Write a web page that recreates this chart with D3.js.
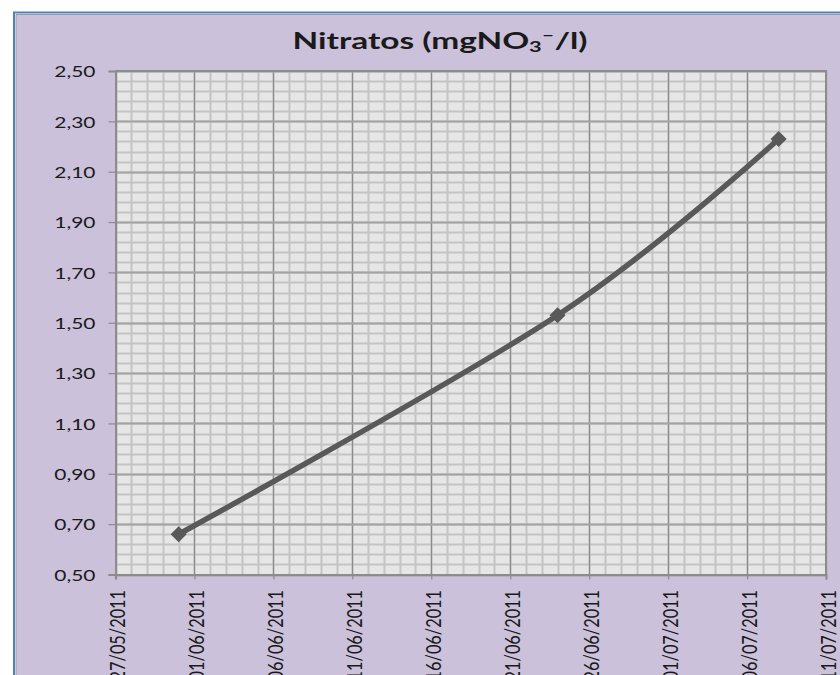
<!DOCTYPE html>
<html>
<head>
<meta charset="utf-8">
<script src="https://cdn.jsdelivr.net/npm/d3@7"></script>
<style>
  html, body { margin: 0; padding: 0; background: #ffffff; overflow: hidden; }
  svg { display: block; }
  text { font-family: Lato, "Open Sans", "Noto Sans", sans-serif; fill: #1a1a1a; }
</style>
</head>
<body>
<svg id="chart" width="840" height="675"></svg>
<script>
// Sampling dates and nitrate concentrations (mg NO3-/l)
const sampleDates = ["31/05/2011", "24/06/2011", "08/07/2011"];
const nitrateValues = [0.66, 1.53, 2.23];

// Axis settings
const xDomainLabels = ["27/05/2011", "11/07/2011"];
const xTickStepDays = 5;
const yTickLabels = ["0,50", "0,70", "0,90", "1,10", "1,30", "1,50", "1,70", "1,90", "2,10", "2,30", "2,50"];
const yTickValues = [0.5, 0.7, 0.9, 1.1, 1.3, 1.5, 1.7, 1.9, 2.1, 2.3, 2.5];
const yMinorStep = 0.04;

const parseDate = d3.timeParse("%d/%m/%Y");
const fmtDate = d3.timeFormat("%d/%m/%Y");

const svg = d3.select("#chart");
const W = 840, H = 675;

// Chart area frame
svg.append("rect").attr("x", 16).attr("y", 14).attr("width", W).attr("height", H)
  .attr("fill", "#cbc1da");
svg.append("path").attr("d", `M14,${H} V12.5 H${W}`)
  .attr("fill", "none").attr("stroke", "#4f81bd").attr("stroke-width", 2);
svg.append("path").attr("d", `M16,${H} V14.5 H${W}`)
  .attr("fill", "none").attr("stroke", "#9a9a9a").attr("stroke-width", 1);

// Plot area
const plot = { left: 115.5, right: 826, top: 71, bottom: 574.5 };

const x = d3.scaleTime()
  .domain(xDomainLabels.map(parseDate))
  .range([plot.left, plot.right]);
const y = d3.scaleLinear()
  .domain([yTickValues[0], yTickValues[yTickValues.length - 1]])
  .range([plot.bottom, plot.top]);

svg.append("rect")
  .attr("x", plot.left).attr("y", plot.top)
  .attr("width", plot.right - plot.left).attr("height", plot.bottom - plot.top)
  .attr("fill", "#e6e6e6");

const grid = svg.append("g");

// Minor gridlines: every day and every 0.04
const [d0, d1] = x.domain();
const days = d3.timeDay.range(d0, d3.timeDay.offset(d1, 1));
grid.selectAll(".vminor").data(days).join("line")
  .attr("x1", d => Math.round(x(d)) + 0.5).attr("x2", d => Math.round(x(d)) + 0.5)
  .attr("y1", plot.top).attr("y2", plot.bottom)
  .attr("stroke", "#c4c4c4").attr("stroke-width", 2);
const yMinor = d3.range(0, Math.round((y.domain()[1] - y.domain()[0]) / yMinorStep) + 1)
  .map(i => y.domain()[0] + i * yMinorStep);
grid.selectAll(".hminor").data(yMinor).join("line")
  .attr("x1", plot.left).attr("x2", plot.right)
  .attr("y1", d => Math.round(y(d)) + 0.5).attr("y2", d => Math.round(y(d)) + 0.5)
  .attr("stroke", "#c4c4c4").attr("stroke-width", 2);

// Major gridlines
const xMajor = d3.timeDay.range(d0, d3.timeDay.offset(d1, 1)).filter((d, i) => i % xTickStepDays === 0);
grid.selectAll(".vmajor").data(xMajor).join("line")
  .attr("x1", d => Math.round(x(d)) + 0.5).attr("x2", d => Math.round(x(d)) + 0.5)
  .attr("y1", plot.top).attr("y2", plot.bottom)
  .attr("stroke", "#8c8c8c").attr("stroke-width", 1.2);
grid.selectAll(".hmajor").data(yTickValues).join("line")
  .attr("x1", plot.left).attr("x2", plot.right)
  .attr("y1", d => Math.round(y(d)) + 0.5).attr("y2", d => Math.round(y(d)) + 0.5)
  .attr("stroke", "#a3a3a3").attr("stroke-width", 2);

// Plot border (top/right)
svg.append("path")
  .attr("d", `M${plot.left},${plot.top} H${plot.right} V${plot.bottom}`)
  .attr("fill", "none").attr("stroke", "#8c8c8c").attr("stroke-width", 2);

// Y axis
const yAxis = svg.append("g").attr("transform", `translate(${plot.left},0)`)
  .call(d3.axisLeft(y).tickValues(yTickValues).tickSize(7)
    .tickFormat((d, i) => yTickLabels[i]));
yAxis.select(".domain").attr("stroke", "#8c8c8c").attr("stroke-width", 2);
yAxis.selectAll(".tick line").attr("stroke", "#8c8c8c").attr("stroke-width", 1.2);
yAxis.selectAll(".tick text")
  .attr("x", null).attr("dy", null)
  .attr("font-size", 15).attr("fill", "#1a1a1a")
  .attr("font-family", "Lato, 'Open Sans', sans-serif")
  .attr("text-anchor", "end").attr("dominant-baseline", "central")
  .attr("transform", "translate(-20,0) scale(1.4,1)");

// X axis
const xAxis = svg.append("g").attr("transform", `translate(0,${plot.bottom})`)
  .call(d3.axisBottom(x).tickValues(xMajor).tickSize(5).tickFormat(fmtDate));
xAxis.select(".domain").attr("stroke", "#8c8c8c").attr("stroke-width", 2);
xAxis.selectAll(".tick line").attr("stroke", "#8c8c8c").attr("stroke-width", 1.2);
xAxis.selectAll(".tick text")
  .attr("y", null).attr("dy", null)
  .attr("font-size", 16).attr("fill", "#1a1a1a")
  .attr("font-family", "Lato, 'Open Sans', sans-serif")
  .attr("text-anchor", "end").attr("dominant-baseline", "central")
  .attr("transform", "translate(1,15.5) rotate(-90) scale(1.02,1.35)");

// Series: smoothed line with diamond markers
const pts = sampleDates.map((s, i) => ({ date: parseDate(s), value: nitrateValues[i] }));
const line = d3.line()
  .x(d => x(d.date)).y(d => y(d.value))
  .curve(d3.curveCatmullRom.alpha(0));
svg.append("path").datum(pts)
  .attr("d", line)
  .attr("fill", "none").attr("stroke", "#595959")
  .attr("stroke-width", 5.5).attr("stroke-linejoin", "round");
svg.selectAll(".marker").data(pts).join("path")
  .attr("d", d3.symbol(d3.symbolSquare, 130)())
  .attr("transform", d => `translate(${x(d.date)},${y(d.value)}) rotate(45)`)
  .attr("fill", "#595959");

// Title
const title = svg.append("text")
  .attr("font-size", 23).attr("font-weight", "bold").attr("fill", "#000")
  .attr("text-anchor", "middle");
title.append("tspan").text("Nitratos (mgNO");
title.append("tspan").text("3").attr("font-size", 15).attr("dy", 3);
title.append("tspan").text("\u2013").attr("font-size", 15).attr("dy", -12);
title.append("tspan").text("/l)").attr("dy", 9);
const tw = title.node().getComputedTextLength();
title.attr("transform", `translate(440,49) scale(${295 / tw},1)`);
</script>
</body>
</html>
